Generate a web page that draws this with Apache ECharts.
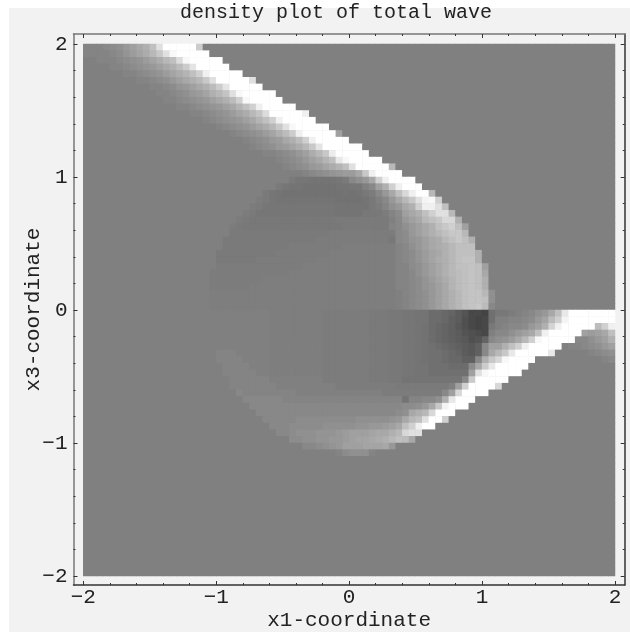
<!DOCTYPE html>
<html>
<head>
<meta charset="utf-8">
<style>
html,body{margin:0;padding:0;background:#fff;}
#paper{position:absolute;left:9px;top:8px;width:621px;height:624px;background:#f2f2f2;}
#chart{position:absolute;left:0;top:0;width:630px;height:632px;}
</style>
<script src="https://cdn.jsdelivr.net/npm/echarts@6/dist/echarts.min.js"></script>
</head>
<body>
<div id="paper"></div>
<div id="chart"></div>
<script>
const titleText = 'density plot of total wave';
const xName = 'x1-coordinate';
const yName = 'x3-coordinate';
const majorTicks = [-2, -1, 0, 1, 2];
const minorTicks = [-1.8,-1.6,-1.4,-1.2,-0.8,-0.6,-0.4,-0.2,0.2,0.4,0.6,0.8,1.2,1.4,1.6,1.8];
const cellCount = 80;
const baseLevel = 'W';
// grey level = index in this alphabet x 4
const levels = '0123456789ABCDEFGHIJKLMNOPQRSTUVWXYZabcdefghijklmnopqrstuvwxyz';
// extra grey levels between those of the alphabet, and the two lightest
const extraLevels = {'~':126,'^':122,'_':118,'!':114,'+':248,'*':255};
// each row, top to bottom: "col:levels" or "from-to=level"; unlisted cells hold the base level
const upperRows = [
"0:XXXYZacegimu*****p",
"0:XXXXYZbdfhkou+*****",
"2:XXXYZabdfhkmt+*****",
"4:XXYZabcegilpv*****",
"6:XXYZabdfhjmqy*****",
"8:XXYZacegikou*****u",
"10:XXYZbcegilpv*****",
"11:XXYZacdfiknu+*****",
"12:XXYZabcegilq+*****",
"14:XXYZabcegjmqy*****",
"16:XXYZabdfhknt*****y",
"18:XYZabcegjmqy*****",
"20:XYZabdfhkou+*****",
"22:XYZabdfilpy*****e",
"24:XYZacdgilqy*****",
"25:XYZacdfhkov******",
"27:XXYZacehkox*****",
"29:XYZacegjmw+*****",
"30:XYZacdfhjmu*****k",
"33:XYZabcddgoy****",
"31:^__TTTT_^Yacgqy****",
"29:^_TT!!!!!TT__WYeiqy***",
"27:^_T 30-38=! 39:T!TUVYcgmsy**k",
"26:V^_ 29-37=T 38-41=! 42:TUWYcgkouz+q",
"25:V^__ 29-37=_ 38-42=T 43:UVXacgiqyyum",
"24:V^ 26-37=_ 38-41=T 42-44=U 45:VXZegimquuk",
"23:V^ 25-37=U 38-45=^ 46:WYcegkmossi",
"22:V^ 24-38=U 39-45=^ 46:XYacegimoqme",
"22-36=^ 37-46=V 47:YZcegikmook",
"21-34=^ 35-45=V 46:U 47:YZbceghkmomi",
"21-30=^ 31-38=V 39-46=~ 47:XYaceghikmmm",
"20-28=^ 29-36=V 37-46=~ 47:XYZbdfgikmmmi",
"20-25=^ 26-34=V 35-46=~ 47:XYZbdfhikmnni",
"20-32=V 33-46=~ 47:XXZacegikmmnme",
"19-30=V 31-46=~ 47:XXYacegiklmnmg",
"19-26=V 27-46=~ 47:XXYZbdfhjlmnmi",
"19-24=V 25-46=~ 47:XXYZbcegjlmnmi",
"19-46=~ 47:WXYZacegikmnnka",
"19-46=~ 47:WXYZacegikmnnma",
"19-46=~ 47:WXYZacegikmnolY"
];
const lowerRows = [
"28-35=~ 36-42=V 43-45=^ 46-47=U 48-49=_ 50-51=T 52:RRQPNLIIHSUUVWXYacgmw 73-79=*",
"28-35=~ 36-42=V 43-45=^ 46-47=U 48-49=_ 50-51=T 52:RRQONKIHISWWXXYZcflqz 73-79=*",
"28-35=~ 36-42=V 43-45=^ 46-47=U 48-49=_ 50:T 51:! 52:RQPOMKIHIUWXYYZceiry 72-76=* 77:lqy",
"28-35=~ 36-42=V 43-45=^ 46-47=U 48-49=_ 50:T 51:! 52:RQPONLKJIWYYacegmy 70-74=* 75:edegm",
"28-35=~ 36-42=V 43-45=^ 46-47=U 48-49=_ 50:T 51:! 52:RQPONMKLPYabdgkq+ 69-73=* 74:YYacei",
"28-35=~ 36-42=V 43-45=^ 46-47=U 48-49=_ 50:T 51:! 52:SRQPONMOYeeimqy 67-71=* 72:WXXYZace",
"20-22=X 28-35=~ 36-42=V 43-45=^ 46-47=U 48-49=_ 50:T 51:! 52:SSRQPNMOYgkow 65-69=* 70:w 76:XYZa",
"20-23=X 28-35=~ 36-42=V 43-45=^ 46-47=U 48-49=_ 50:T 51:! 52:SSRQQOOYios+ 64-67=* 78:XY",
"21-24=X 28-35=~ 36-42=V 43-45=^ 46-47=U 48-49=_ 50:T 51:T 52:SSSRRRZgpw 62-66=*",
"21-25=X 28-35=~ 36-42=V 43-45=^ 46-47=U 48-49=_ 50:T 51:T 52:SSSSSSeu+ 61-65=*",
"22-27=X 36-42=V 43-45=^ 46:U 47:U 48-56=T 57:Yp 59-63=*",
"22-28=X 38-46=V 47-54=^ 55:Weq 58-61=* 62:s",
"23:Y 24-31=X 45-53=V 54:Yes 57-60=*",
"24-29=Y 30-47=X 48:TXXYYaiw 56-58=*",
"25-47=Y 48:ZZacgoz 55-57=*",
"26-46=Y 47:Zagiks 53-55=*",
"27-31=Y 32-40=Z 41-45=a 46:bcgkmu 52-53=* 54:q",
"28:YYYZZZZZaaaaabbccdegmqy**",
"29:YYZaaabbbcdeeefggiksuu",
"31:ZZaabbccdeffghikmlg",
"33:YYZabceeefffgc",
"38:XZaaaX",
"","","","","","","","","","","","","","","","","",""
];

function grey(ch){
  if(ch in extraLevels) return extraLevels[ch];
  return levels.indexOf(ch)*4;
}
const cells=[];
upperRows.concat(lowerRows).forEach(function(text,r){
  const row=new Array(cellCount).fill(grey(baseLevel));
  text.split(' ').filter(Boolean).forEach(function(tok){
    let m=tok.match(/^(\d+)-(\d+)=(.)$/);
    if(m){ for(let c=+m[1];c<=+m[2];c++) row[c]=grey(m[3]); return; }
    m=tok.match(/^(\d+):(.+)$/);
    if(m){ for(let i=0;i<m[2].length;i++) row[+m[1]+i]=grey(m[2][i]); }
  });
  row.forEach(function(v,c){cells.push([c,r,v]);});
});
const indexCats=Array.from({length:cellCount},function(_,i){return i;});

const mono='"Liberation Mono",monospace';
const ink='#222';
const xRange={min:-2.074,max:2.073};
const yRange={min:-2.068,max:2.075};
function fmt(v){return String(v).replace('-','\u2212');}
function xAx(pos,ticks,len,lineColor,labels){
  return Object.assign({type:'value',gridIndex:0,position:pos,splitLine:{show:false},
    axisLine:{show:lineColor!==null,onZero:false,lineStyle:{color:lineColor||'#000',width:1.5}},
    axisTick:{show:true,inside:true,length:len,customValues:ticks,lineStyle:{color:'#333',width:1}},
    axisLabel:labels?{show:true,customValues:ticks,formatter:fmt,margin:2,color:ink,fontFamily:mono,fontSize:21,hideOverlap:false,showMinLabel:true,showMaxLabel:true}:{show:false}
  },xRange);
}
function yAx(pos,ticks,len,lineColor,labels){
  return Object.assign({type:'value',gridIndex:0,position:pos,splitLine:{show:false},
    axisLine:{show:lineColor!==null,onZero:false,lineStyle:{color:lineColor||'#000',width:1.5}},
    axisTick:{show:true,inside:true,length:len,customValues:ticks,lineStyle:{color:'#333',width:1}},
    axisLabel:labels?{show:true,customValues:ticks,formatter:fmt,margin:6,color:ink,fontFamily:mono,fontSize:21,hideOverlap:false,showMinLabel:true,showMaxLabel:true}:{show:false}
  },yRange);
}
const xBottom=xAx('bottom',majorTicks,4,'#333',true);
xBottom.name=xName;xBottom.nameLocation='middle';xBottom.nameGap=25;xBottom.nameMoveOverlap=false;
xBottom.nameTextStyle={fontFamily:mono,fontSize:21,color:ink};
const yLeft=yAx('left',majorTicks,4,'#777',true);
yLeft.name=yName;yLeft.nameLocation='middle';yLeft.nameGap=30;yLeft.nameMoveOverlap=false;
yLeft.nameTextStyle={fontFamily:mono,fontSize:21,color:ink};

const chart=echarts.init(document.getElementById('chart'),null,{renderer:'canvas'});
chart.setOption({
  backgroundColor:'transparent',
  animation:false,
  title:{text:titleText,top:3,padding:0,left:180,
    textStyle:{fontFamily:mono,fontSize:20,fontWeight:'normal',color:ink}},
  grid:[
    {left:73.5,right:5.3,top:34,bottom:47,outerBoundsMode:'none'},
    {left:83.3,right:15,top:44,bottom:56,outerBoundsMode:'none',show:true,backgroundColor:'#808080',borderWidth:0}
  ],
  xAxis:[
    xBottom,
    xAx('bottom',minorTicks,2,null,false),
    xAx('top',majorTicks,4,'#777',false),
    xAx('top',minorTicks,2,null,false),
    {type:'category',gridIndex:1,data:indexCats,show:false}
  ],
  yAxis:[
    yLeft,
    yAx('left',minorTicks,2,null,false),
    yAx('right',majorTicks,4,'#333',false),
    yAx('right',minorTicks,2,null,false),
    {type:'category',gridIndex:1,data:indexCats,show:false,inverse:true}
  ],
  visualMap:{show:false,min:0,max:255,seriesIndex:0,inRange:{color:['#000000','#ffffff']}},
  series:[{type:'heatmap',xAxisIndex:4,yAxisIndex:4,data:cells,progressive:0,silent:true,
    itemStyle:{borderWidth:0},emphasis:{disabled:true}}]
});
</script>
</body>
</html>
